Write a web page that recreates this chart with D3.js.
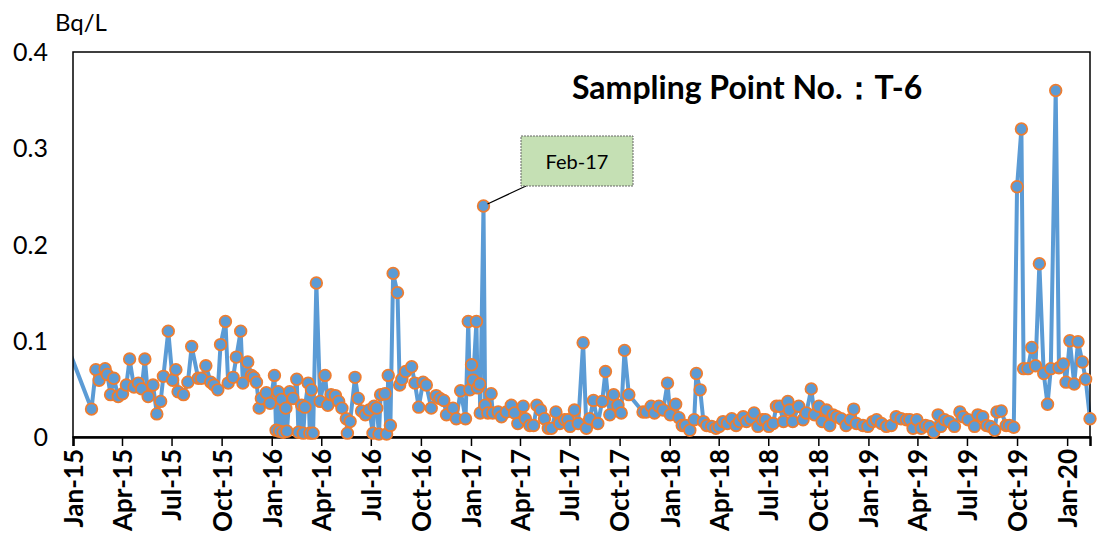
<!DOCTYPE html>
<html>
<head>
<meta charset="utf-8">
<script src="https://cdn.jsdelivr.net/npm/d3@7"></script>
<style>
  body { margin: 0; background: #ffffff; }
  text { font-family: Lato, "Noto Sans", sans-serif; }
</style>
</head>
<body>
<div id="vis1"></div>
<script>
// sampling dates (the first one sits just before the axis start, the line is clipped there)
const sampleDates = [
  "2014-12-28","2015-02-04","2015-02-12","2015-02-18","2015-03-01","2015-03-05","2015-03-11","2015-03-17",
  "2015-03-25","2015-04-02","2015-04-09","2015-04-15","2015-04-23","2015-05-01","2015-05-07","2015-05-13",
  "2015-05-19","2015-05-28","2015-06-04","2015-06-11","2015-06-16","2015-06-25","2015-07-03","2015-07-09",
  "2015-07-13","2015-07-23","2015-07-31","2015-08-07","2015-08-19","2015-08-25","2015-09-02","2015-09-11",
  "2015-09-17","2015-09-24","2015-09-29","2015-10-08","2015-10-13","2015-10-22","2015-10-28","2015-11-05",
  "2015-11-09","2015-11-18","2015-11-25","2015-11-29","2015-12-04","2015-12-09","2015-12-13","2015-12-22",
  "2015-12-29","2016-01-06","2016-01-09","2016-01-13","2016-01-15","2016-01-19","2016-01-22","2016-01-27",
  "2016-01-29","2016-02-03","2016-02-09","2016-02-16","2016-02-19","2016-02-25","2016-02-28","2016-03-02",
  "2016-03-08","2016-03-11","2016-03-14","2016-03-17","2016-03-23","2016-03-30","2016-04-08","2016-04-13",
  "2016-04-19","2016-04-27","2016-05-03","2016-05-09","2016-05-17","2016-05-19","2016-05-24","2016-06-02",
  "2016-06-08","2016-06-14","2016-06-21","2016-06-28","2016-07-05","2016-07-07","2016-07-12","2016-07-16",
  "2016-07-19","2016-07-27","2016-07-30","2016-08-02","2016-08-06","2016-08-11","2016-08-19","2016-08-23",
  "2016-08-27","2016-09-03","2016-09-14","2016-09-20","2016-09-27","2016-10-05","2016-10-11","2016-10-20",
  "2016-10-29","2016-11-05","2016-11-12","2016-11-17","2016-11-29","2016-12-05","2016-12-13","2016-12-22",
  "2016-12-27","2016-12-30","2017-01-02","2017-01-05","2017-01-11","2017-01-13","2017-01-17","2017-01-18",
  "2017-01-24","2017-01-27","2017-02-01","2017-02-07","2017-02-10","2017-02-20","2017-02-26","2017-03-07",
  "2017-03-16","2017-03-22","2017-03-28","2017-04-07","2017-04-11","2017-04-19","2017-04-26","2017-05-02",
  "2017-05-09","2017-05-16","2017-05-23","2017-05-29","2017-06-06","2017-06-13","2017-06-22","2017-06-28",
  "2017-07-02","2017-07-10","2017-07-17","2017-07-26","2017-08-01","2017-08-07","2017-08-14","2017-08-22",
  "2017-08-30","2017-09-05","2017-09-13","2017-09-20","2017-09-28","2017-10-04","2017-10-10","2017-10-18",
  "2017-11-13","2017-11-19","2017-11-28","2017-12-04","2017-12-12","2017-12-20","2017-12-28","2018-01-02",
  "2018-01-12","2018-01-18","2018-01-24","2018-01-30","2018-02-07","2018-02-15","2018-02-19","2018-02-26",
  "2018-03-04","2018-03-10","2018-03-19","2018-03-27","2018-04-02","2018-04-09","2018-04-17","2018-04-25",
  "2018-05-03","2018-05-09","2018-05-16","2018-05-22","2018-05-30","2018-06-05","2018-06-12","2018-06-20",
  "2018-06-26","2018-07-02","2018-07-10","2018-07-16","2018-07-22","2018-07-29","2018-08-06","2018-08-09",
  "2018-08-15","2018-08-26","2018-09-03","2018-09-09","2018-09-18","2018-09-24","2018-10-02","2018-10-08",
  "2018-10-16","2018-10-22","2018-10-28","2018-11-04","2018-11-12","2018-11-21","2018-11-29","2018-12-05",
  "2018-12-10","2018-12-22","2018-12-31","2019-01-09","2019-01-16","2019-01-25","2019-02-03","2019-02-12",
  "2019-02-21","2019-03-02","2019-03-12","2019-03-18","2019-03-24","2019-03-31","2019-04-08","2019-04-16",
  "2019-04-23","2019-05-01","2019-05-09","2019-05-14","2019-05-21","2019-05-29","2019-06-08","2019-06-18",
  "2019-06-24","2019-07-03","2019-07-15","2019-07-21","2019-07-30","2019-08-06","2019-08-13","2019-08-21",
  "2019-08-25","2019-09-02","2019-09-11","2019-09-17","2019-09-25","2019-10-01","2019-10-09","2019-10-13",
  "2019-10-21","2019-10-28","2019-11-04","2019-11-11","2019-11-19","2019-11-26","2019-12-02","2019-12-11",
  "2019-12-17","2019-12-25","2019-12-30","2020-01-06","2020-01-14","2020-01-21","2020-01-29","2020-02-04",
  "2020-02-12"
];

// tritium concentration, Bq/L
const concentrations = [
  0.085,0.029,0.070,0.059,0.071,0.065,0.044,0.061,
  0.042,0.045,0.054,0.081,0.052,0.056,0.050,0.081,
  0.042,0.054,0.024,0.037,0.063,0.110,0.059,0.070,
  0.047,0.044,0.057,0.094,0.061,0.061,0.074,0.057,
  0.054,0.049,0.096,0.120,0.056,0.062,0.083,0.110,
  0.056,0.078,0.064,0.062,0.057,0.030,0.040,0.046,
  0.035,0.064,0.007,0.047,0.006,0.039,0.005,0.030,
  0.006,0.047,0.040,0.060,0.005,0.033,0.004,0.031,
  0.056,0.004,0.049,0.004,0.160,0.037,0.064,0.033,
  0.044,0.043,0.037,0.030,0.019,0.004,0.016,0.062,
  0.040,0.027,0.023,0.028,0.004,0.032,0.030,0.003,
  0.044,0.045,0.003,0.064,0.012,0.170,0.150,0.054,
  0.060,0.068,0.073,0.056,0.031,0.057,0.054,0.030,
  0.043,0.040,0.038,0.023,0.030,0.019,0.048,0.019,
  0.120,0.049,0.075,0.059,0.120,0.051,0.055,0.025,
  0.240,0.033,0.025,0.045,0.025,0.026,0.021,0.026,
  0.033,0.025,0.014,0.032,0.019,0.012,0.012,0.033,
  0.028,0.019,0.009,0.009,0.026,0.014,0.018,0.018,
  0.011,0.028,0.014,0.098,0.009,0.019,0.038,0.014,
  0.037,0.068,0.023,0.044,0.033,0.025,0.090,0.044,
  0.026,0.026,0.032,0.025,0.032,0.028,0.056,0.023,
  0.034,0.020,0.012,0.012,0.007,0.018,0.066,0.049,
  0.016,0.012,0.011,0.009,0.011,0.016,0.014,0.019,
  0.012,0.016,0.021,0.016,0.019,0.025,0.011,0.018,
  0.018,0.011,0.014,0.032,0.032,0.016,0.037,0.028,
  0.016,0.032,0.018,0.025,0.050,0.023,0.032,0.016,
  0.028,0.012,0.023,0.021,0.019,0.012,0.018,0.029,
  0.014,0.012,0.011,0.016,0.018,0.014,0.011,0.012,
  0.021,0.019,0.018,0.018,0.009,0.018,0.009,0.012,
  0.011,0.005,0.023,0.011,0.018,0.016,0.011,0.026,
  0.021,0.018,0.011,0.023,0.021,0.012,0.011,0.007,
  0.026,0.027,0.012,0.012,0.010,0.260,0.320,0.071,
  0.071,0.093,0.074,0.180,0.066,0.034,0.071,0.360,
  0.072,0.076,0.057,0.100,0.055,0.099,0.078,0.060,
  0.019
];

const yTicks = [0, 0.1, 0.2, 0.3, 0.4];
const yTickLabels = ["0", "0.1", "0.2", "0.3", "0.4"];
const xRange = ["2015-01-01", "2020-02-12"];
const unitLabel = "Bq/L";
const chartTitle = "Sampling Point No.\uFF1AT-6";
const calloutDate = "2017-01-24";
const calloutText = "Feb-17";

// frame
const FRAME_WIDTH = 1100;
const FRAME_HEIGHT = 548;
const MARGINS = {left: 73, right: 10, top: 52, bottom: 111};
const VIS_WIDTH = FRAME_WIDTH - MARGINS.left - MARGINS.right;
const VIS_HEIGHT = FRAME_HEIGHT - MARGINS.top - MARGINS.bottom;

const parseDate = d3.timeParse("%Y-%m-%d");
const data = sampleDates.map((d, i) => ({date: parseDate(d), value: concentrations[i]}));

const svg = d3.select("#vis1")
  .append("svg")
    .attr("width", FRAME_WIDTH)
    .attr("height", FRAME_HEIGHT);

const x = d3.scaleTime()
  .domain(xRange.map(parseDate))
  .range([MARGINS.left, MARGINS.left + VIS_WIDTH]);

const y = d3.scaleLinear()
  .domain([0, 0.4])
  .range([MARGINS.top + VIS_HEIGHT, MARGINS.top]);

// clip so the line starts at the left edge
svg.append("clipPath").attr("id", "plotclip")
  .append("rect")
    .attr("x", MARGINS.left).attr("y", 0)
    .attr("width", VIS_WIDTH + 20).attr("height", FRAME_HEIGHT);

// line
const line = d3.line().x(d => x(d.date)).y(d => y(d.value));
svg.append("path")
  .datum(data)
  .attr("clip-path", "url(#plotclip)")
  .attr("fill", "none")
  .attr("stroke", "#5B9BD5")
  .attr("stroke-width", 4)
  .attr("stroke-linejoin", "round")
  .attr("d", line);

// frame around plot area
svg.append("rect")
  .attr("x", MARGINS.left).attr("y", MARGINS.top)
  .attr("width", VIS_WIDTH).attr("height", VIS_HEIGHT)
  .attr("fill", "none").attr("stroke", "#000").attr("stroke-width", 1.5);

// x axis
const xTicks = d3.timeMonth.every(3).range(x.domain()[0], x.domain()[1]);
const xAxis = svg.append("g")
  .attr("transform", "translate(0," + (MARGINS.top + VIS_HEIGHT) + ")")
  .call(d3.axisBottom(x).tickValues(xTicks).tickSize(9).tickFormat(d3.timeFormat("%b-%y")));
xAxis.select(".domain").attr("stroke-width", 2.5);
xAxis.selectAll(".tick line").attr("stroke-width", 1.5);
xAxis.selectAll("text")
  .attr("font-family", "Lato, sans-serif")
  .attr("font-size", 26)
  .attr("font-weight", "bold")
  .attr("fill", "#000")
  .attr("transform", "translate(0,12)rotate(-90)")
  .attr("x", 0).attr("y", 0).attr("dy", "0.36em")
  .style("text-anchor", "end");

// y axis labels
svg.append("g").selectAll("text")
  .data(yTicks)
  .enter()
  .append("text")
    .attr("x", 48)
    .attr("y", d => y(d))
    .attr("dy", "0.36em")
    .attr("text-anchor", "end")
    .attr("font-size", 25)
    .attr("fill", "#000")
    .text((d, i) => yTickLabels[i]);

svg.append("text")
  .attr("x", 55).attr("y", 31)
  .attr("font-size", 24)
  .attr("fill", "#000")
  .text(unitLabel);

// markers
svg.append("g").selectAll("circle")
  .data(data.filter(d => d.date >= x.domain()[0]))
  .enter()
  .append("circle")
    .attr("cx", d => x(d.date))
    .attr("cy", d => y(d.value))
    .attr("r", 5.8)
    .attr("fill", "#5B9BD5")
    .attr("stroke", "#ED7D31")
    .attr("stroke-width", 1.8);

// title
svg.append("text")
  .attr("x", 572).attr("y", 99)
  .attr("font-size", 32)
  .attr("font-weight", "bold")
  .attr("fill", "#000")
  .text(chartTitle);

// callout for the peak
const peak = data.find(d => +d.date === +parseDate(calloutDate));
const BOX = {x: 521, y: 136, w: 112, h: 50};
svg.append("line")
  .attr("x1", x(peak.date) + 4).attr("y1", y(peak.value) - 2)
  .attr("x2", BOX.x + 5).attr("y2", BOX.y + BOX.h)
  .attr("stroke", "#000").attr("stroke-width", 1.2);
svg.append("rect")
  .attr("x", BOX.x).attr("y", BOX.y)
  .attr("width", BOX.w).attr("height", BOX.h)
  .attr("fill", "#C5E0B4")
  .attr("stroke", "#666").attr("stroke-width", 1)
  .attr("stroke-dasharray", "2,1");
svg.append("text")
  .attr("x", BOX.x + BOX.w / 2).attr("y", BOX.y + 33)
  .attr("text-anchor", "middle")
  .attr("font-size", 20)
  .attr("fill", "#000")
  .text(calloutText);
</script>
</body>
</html>
